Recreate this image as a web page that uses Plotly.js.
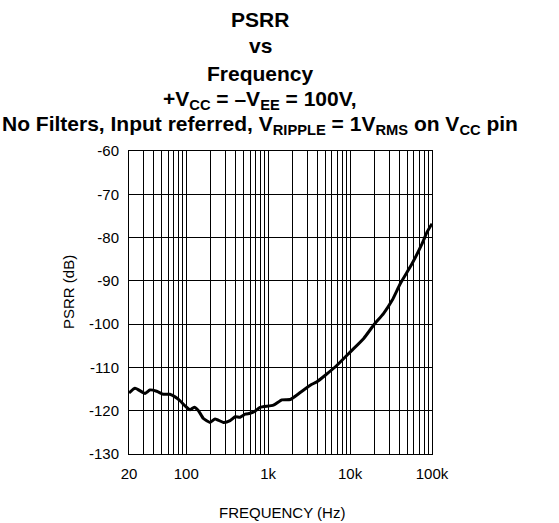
<!DOCTYPE html>
<html><head><meta charset="utf-8">
<script src="https://cdn.plot.ly/plotly-3.0.1.min.js"></script>
<style>html,body{margin:0;padding:0;background:#fff}</style>
</head><body><div id="chart" style="width:559px;height:523px"></div>
<script>
const freqHz = [20, 23.7, 31.4, 36, 43.5, 52.5, 63, 73, 84, 97, 111, 125, 141, 162, 195, 225, 284, 343, 395, 455, 525, 603, 693, 798, 1160, 1470, 1860, 2460, 3270, 3940, 4980, 6920, 10080, 14680, 19450, 25700, 32600, 41100, 57200, 75700, 87200, 100000];
const psrrDb = [-115.9, -114.8, -116.0, -115.2, -115.5, -116.2, -116.2, -116.8, -117.7, -118.9, -119.8, -119.2, -120.0, -121.8, -122.7, -121.9, -122.7, -122.3, -121.4, -121.5, -120.8, -120.6, -120.1, -119.2, -118.7, -117.5, -117.4, -115.8, -114.1, -113.3, -111.8, -109.5, -106.4, -103.3, -100.2, -97.5, -94.5, -90.6, -86.0, -81.4, -78.7, -76.8];
const xTickVals = [20,30,40,50,60,70,80,90,100,200,300,400,500,600,700,800,900,1000,2000,3000,4000,5000,6000,7000,8000,9000,10000,20000,30000,40000,50000,60000,70000,80000,90000,100000];
const xTickLabels = {20:'20',100:'100',1000:'1k',10000:'10k',100000:'100k'};
const xTickText = xTickVals.map(v => xTickLabels[v] || '');
const yTickVals = [-130,-120,-110,-100,-90,-80,-70,-60];
const yTickText = ['-130','-120','-110','-100','-90','-80','-70','-60'];
const titleLines = [
  'PSRR',
  'vs',
  'Frequency',
  '+V<sub>CC</sub> = \u2013V<sub>EE</sub> = 100V,',
  'No Filters, Input referred, V<sub>RIPPLE</sub> = 1V<sub>RMS</sub> on V<sub>CC</sub> pin'
];
const xTitle = 'FREQUENCY (Hz)';
const yTitle = 'PSRR (dB)';

const font = "'Liberation Sans', Arial, sans-serif";
const W = 559, H = 523;
const M = {l: 129, r: 127, t: 151, b: 69};
const PW = W - M.l - M.r, PH = H - M.t - M.b;
const px2x = px => (px - M.l) / PW;
const py2y = py => (H - M.b - py) / PH;

const titleCenters = [19.5, 45.5, 73.5, 99.5, 125.5];
const annotations = titleLines.map((t, i) => ({
  text: '<b>' + t + '</b>', xref: 'paper', yref: 'paper',
  x: px2x(260), y: py2y(titleCenters[i]), xanchor: 'center', yanchor: 'middle',
  showarrow: false, font: {family: font, size: 21, color: '#000'}
}));
annotations.push({
  text: xTitle, xref: 'paper', yref: 'paper', x: px2x(282), y: py2y(512),
  xanchor: 'center', yanchor: 'middle', showarrow: false,
  font: {family: font, size: 15, color: '#000'}
});
annotations.push({
  text: yTitle, xref: 'paper', yref: 'paper', x: px2x(68), y: py2y(292),
  xanchor: 'center', yanchor: 'middle', textangle: -90, showarrow: false,
  font: {family: font, size: 15, color: '#000'}
});

const data = [{
  x: freqHz, y: psrrDb, type: 'scatter', mode: 'lines',
  line: {color: '#000', width: 3, shape: 'spline', smoothing: 0.5}, hoverinfo: 'skip'
}];
const layout = {
  width: W, height: H, margin: M,
  paper_bgcolor: '#fff', plot_bgcolor: '#fff',
  font: {family: font, color: '#000', size: 15},
  showlegend: false,
  annotations: annotations,
  xaxis: {
    type: 'log', range: [Math.log10(20), 5],
    tickmode: 'array', tickvals: xTickVals, ticktext: xTickText,
    showgrid: true, gridcolor: '#000', gridwidth: 1,
    showline: true, linecolor: '#000', linewidth: 1, mirror: true,
    ticks: '', zeroline: false, ticklabelstandoff: 6,
    tickfont: {family: font, size: 15, color: '#000'}
  },
  yaxis: {
    range: [-130, -60], tickmode: 'array', tickvals: yTickVals, ticktext: yTickText,
    showgrid: true, gridcolor: '#000', gridwidth: 1,
    showline: true, linecolor: '#000', linewidth: 1, mirror: true,
    ticks: '', zeroline: false, ticklabelstandoff: 6,
    tickfont: {family: font, size: 15, color: '#000'}
  }
};
Plotly.newPlot('chart', data, layout, {displayModeBar: false, staticPlot: true});
</script></body></html>
